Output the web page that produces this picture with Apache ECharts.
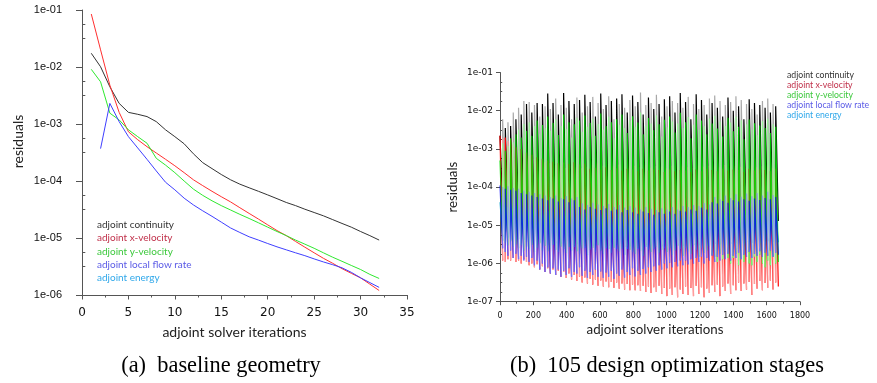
<!DOCTYPE html>
<html><head><meta charset="utf-8">
<script src="https://cdn.jsdelivr.net/npm/echarts@6/dist/echarts.min.js"></script>
<style>html,body{margin:0;padding:0;background:#fff}#c{width:877px;height:383px}</style>
</head><body><div id="c"></div>
<script>
// ---------- shared ----------
const seriesNames = ['adjoint continuity','adjoint x-velocity','adjoint y-velocity','adjoint local flow rate','adjoint energy'];
const legendTextColors = ['#333333','#c0304a','#3cc83c','#5a5ae6','#30a8ea'];

// ---------- (a) baseline geometry ----------
const baseIter = [1,2,3,4,5,6,7,8,9,10,11,12,13,14,15,16,17,18,19,20,21,22,23,24,25,26,27,28,29,30,31,32];
const baseContinuity = [1.74e-2,1.01e-2,4.5e-3,2.3e-3,1.6e-3,1.48e-3,1.35e-3,1.1e-3,7.9e-4,6.0e-4,4.5e-4,3.0e-4,2.1e-4,1.65e-4,1.3e-4,1.05e-4,8.8e-5,7.6e-5,6.6e-5,5.7e-5,4.9e-5,4.2e-5,3.7e-5,3.2e-5,2.8e-5,2.45e-5,2.1e-5,1.8e-5,1.55e-5,1.3e-5,1.1e-5,9.2e-6];
const baseXVel = [8.5e-2,2.0e-2,4.8e-3,1.6e-3,7.3e-4,5.3e-4,4.0e-4,3.1e-4,2.4e-4,1.85e-4,1.4e-4,1.05e-4,8.3e-5,6.6e-5,5.3e-5,4.3e-5,3.4e-5,2.7e-5,2.15e-5,1.7e-5,1.35e-5,1.1e-5,8.7e-6,6.9e-6,5.5e-6,4.4e-6,3.6e-6,2.9e-6,2.4e-6,2.0e-6,1.55e-6,1.2e-6];
const baseYVel = [9.1e-3,5.5e-3,1.55e-3,1.18e-3,7.9e-4,6.0e-4,4.6e-4,2.5e-4,1.9e-4,1.4e-4,1.0e-4,7.2e-5,5.6e-5,4.5e-5,3.7e-5,3.1e-5,2.6e-5,2.2e-5,1.85e-5,1.55e-5,1.3e-5,1.1e-5,9.2e-6,7.8e-6,6.6e-6,5.5e-6,4.6e-6,3.9e-6,3.3e-6,2.8e-6,2.3e-6,1.95e-6];
const baseFlowRate = [null,3.7e-4,2.3e-3,1.1e-3,6.0e-4,3.8e-4,2.4e-4,1.5e-4,9.5e-5,7.0e-5,5.0e-5,3.8e-5,3.0e-5,2.4e-5,1.9e-5,1.5e-5,1.25e-5,1.05e-5,9.2e-6,8.0e-6,7.0e-6,6.2e-6,5.5e-6,4.9e-6,4.3e-6,3.8e-6,3.4e-6,3.0e-6,2.5e-6,2.0e-6,1.65e-6,1.36e-6];
const baseEnergy = [];
const leftXTicks = [0,5,10,15,20,25,30,35];
const leftMinorTicks = [5.62e-2,3.16e-2,5.62e-3,3.16e-3,5.62e-4,3.16e-4,5.62e-5,3.16e-5,5.62e-6,3.16e-6];

// ---------- (b) 105 design optimization stages (per-stage start peak / end residual) ----------
const totalIterations = 1670;
const contPeak = [2.2e-3,6e-3,3.5e-3,5e-3,4e-3,9e-3,6e-3,1.2e-2,8e-3,1.8e-2,
1.5e-2,1.7e-2,9e-3,1.4e-2,1.6e-2,7e-3,1.5e-2,1.3e-2,2.8e-2,1.1e-2,
1.6e-2,2.1e-2,8e-3,1.4e-2,2.9e-2,1.2e-2,1.8e-2,6e-3,1.5e-2,2.2e-2,
1.9e-2,9e-3,2.6e-2,1.3e-2,1.7e-2,2.3e-2,7e-3,1.6e-2,2.8e-2,1.1e-2,
1.4e-2,2.4e-2,1.8e-2,6e-3,2.1e-2,1.5e-2,2.7e-2,1.2e-2,9e-3,1.9e-2,
2.5e-2,1.3e-2,1.7e-2,3e-2,8e-3,1.4e-2,2.2e-2,1.6e-2,1.1e-2,2.6e-2,
1.5e-2,7e-3,2e-2,1.3e-2,2.4e-2,1.8e-2,9e-3,1.6e-2,2.9e-2,1.2e-2,
1.7e-2,2.3e-2,6e-3,1.5e-2,2.7e-2,1.1e-2,1.9e-2,1.4e-2,8e-3,2.1e-2,
1.6e-2,2.5e-2,1.2e-2,1.8e-2,7e-3,1.4e-2,2.2e-2,1.7e-2,1e-2,2.4e-2,
1.3e-2,1.9e-2,6e-3,1.5e-2,2e-2,1.1e-2,1.6e-2,8e-3,1.4e-2,1.8e-2,
1.2e-2,2.1e-2,9e-3,1.5e-2,1.3e-2];
const contLow = [3e-5,2.4e-5,2.8e-5,2e-5,2.2e-5,1.6e-5,1.9e-5,1.3e-5,1.7e-5,1.1e-5,
1.4e-5,1.2e-5,1.6e-5,1e-5,1.3e-5,1.8e-5,1.1e-5,1.4e-5,9e-6,1.5e-5,
1.2e-5,1e-5,1.7e-5,1.3e-5,8e-6,1.4e-5,1.1e-5,1.9e-5,1.2e-5,9e-6,
1e-5,1.6e-5,8e-6,1.3e-5,1.1e-5,9e-6,1.8e-5,1.2e-5,8e-6,1.4e-5,
1.2e-5,9e-6,1.1e-5,1.9e-5,1e-5,1.3e-5,8e-6,1.4e-5,1.6e-5,1.1e-5,
9e-6,1.3e-5,1.1e-5,8e-6,1.7e-5,1.2e-5,1e-5,1.3e-5,1.5e-5,9e-6,
1.2e-5,1.8e-5,1e-5,1.4e-5,9e-6,1.1e-5,1.6e-5,1.2e-5,8e-6,1.4e-5,
1.1e-5,9e-6,1.9e-5,1.3e-5,8e-6,1.5e-5,1e-5,1.2e-5,1.7e-5,1e-5,
1.2e-5,9e-6,1.4e-5,1.1e-5,1.8e-5,1.3e-5,1e-5,1.2e-5,1.5e-5,9e-6,
1.3e-5,1.1e-5,1.9e-5,1.2e-5,1e-5,1.5e-5,1.2e-5,1.7e-5,1.3e-5,1.1e-5,
1.4e-5,1e-5,1.6e-5,1.2e-5,1.3e-5];
const xvelPeak = [2.2e-3,1.9e-3,2e-3,1.6e-3,1.8e-3,1.3e-3,1.1e-3,9e-4,1e-3,7.5e-4,
8e-4,6.5e-4,7e-4,5.5e-4,6e-4,5e-4,5.5e-4,4.5e-4,5e-4,4.2e-4,
4.6e-4,3.8e-4,4.2e-4,3.5e-4,4.4e-4,3.2e-4,4e-4,3.6e-4,4.5e-4,3.3e-4,
3.9e-4,3.1e-4,4.1e-4,3.4e-4,3e-4,3.8e-4,3.2e-4,4.2e-4,2.9e-4,3.6e-4,
3.3e-4,4e-4,2.8e-4,3.5e-4,3.1e-4,3.9e-4,2.7e-4,3.4e-4,3e-4,3.7e-4,
2.9e-4,3.6e-4,2.6e-4,3.3e-4,3e-4,3.8e-4,2.7e-4,3.2e-4,2.9e-4,3.5e-4,
2.8e-4,3.4e-4,2.5e-4,3.1e-4,2.9e-4,3.6e-4,2.6e-4,3.3e-4,2.8e-4,3.5e-4,
2.7e-4,3.3e-4,2.5e-4,3.2e-4,2.9e-4,3.7e-4,2.6e-4,3.4e-4,3e-4,3.6e-4,
2.8e-4,3.5e-4,2.6e-4,3.3e-4,3e-4,3.8e-4,2.7e-4,3.4e-4,2.9e-4,3.6e-4,
2.8e-4,3.4e-4,2.5e-4,3.2e-4,3e-4,3.7e-4,2.7e-4,3.3e-4,2.9e-4,3.5e-4,
2.8e-4,3.4e-4,2.6e-4,3.2e-4,3e-4];
const xvelLow = [1.2e-6,1.1e-6,1.3e-6,1.2e-6,1.4e-6,1.1e-6,1.2e-6,1e-6,1.3e-6,1.1e-6,
9e-7,1e-6,8e-7,9.5e-7,7e-7,8.5e-7,6e-7,7.5e-7,5.5e-7,7e-7,
5e-7,6.5e-7,4.5e-7,6e-7,4.2e-7,5.5e-7,3.8e-7,5e-7,3.5e-7,4.6e-7,
3.2e-7,4.3e-7,3e-7,4e-7,2.8e-7,3.8e-7,2.6e-7,3.6e-7,2.5e-7,3.4e-7,
2.4e-7,3.3e-7,2.3e-7,3.2e-7,2.2e-7,3e-7,2.1e-7,2.9e-7,2e-7,2.8e-7,
2e-7,2.7e-7,1.9e-7,2.6e-7,1.8e-7,2.5e-7,1.7e-7,2.4e-7,1.8e-7,2.6e-7,
1.6e-7,2.3e-7,1.4e-7,2.2e-7,1.5e-7,2.4e-7,1.3e-7,2.1e-7,1.6e-7,2.5e-7,
1.5e-7,2.3e-7,1.4e-7,2.6e-7,1.6e-7,2.4e-7,1.3e-7,2.2e-7,1.7e-7,2.7e-7,
1.8e-7,2.8e-7,1.4e-7,2.5e-7,1.9e-7,3e-7,1.6e-7,2.7e-7,2e-7,3.2e-7,
1.9e-7,3e-7,2.1e-7,3.3e-7,1.5e-7,2.9e-7,2.2e-7,3.5e-7,2e-7,3.1e-7,
2.3e-7,3.6e-7,2.1e-7,3.2e-7,2.5e-7];
const yvelPeak = [5e-4,1.4e-3,9e-4,1.2e-3,1.9e-3,1.5e-3,2.4e-3,3.2e-3,2e-3,4.5e-3,
3e-3,5e-3,2.2e-3,4e-3,5.5e-3,2.5e-3,4.2e-3,3.5e-3,7e-3,3e-3,
4.8e-3,6e-3,2.3e-3,4e-3,8e-3,3.3e-3,5e-3,2e-3,4.4e-3,6.5e-3,
5.5e-3,2.8e-3,7.5e-3,3.8e-3,4.8e-3,6.2e-3,2.2e-3,4.5e-3,8.5e-3,3.2e-3,
4e-3,7e-3,5e-3,1.9e-3,6e-3,4.3e-3,8e-3,3.5e-3,2.6e-3,5.5e-3,
7.2e-3,3.8e-3,4.9e-3,9e-3,2.4e-3,4.1e-3,6.4e-3,4.6e-3,3.1e-3,7.6e-3,
4.4e-3,2.1e-3,5.8e-3,3.7e-3,7e-3,5.2e-3,2.7e-3,4.6e-3,8.8e-3,3.5e-3,
5e-3,6.8e-3,1.9e-3,4.3e-3,8e-3,3.2e-3,5.5e-3,4e-3,2.4e-3,6.2e-3,
4.6e-3,7.4e-3,3.4e-3,5.2e-3,2.1e-3,4e-3,6.5e-3,4.9e-3,2.9e-3,7e-3,
3.8e-3,5.6e-3,1.8e-3,4.4e-3,5.9e-3,3.2e-3,4.7e-3,2.3e-3,4.1e-3,5.3e-3,
3.5e-3,6.2e-3,2.6e-3,4.4e-3,3.8e-3];
const yvelLow = [4e-6,3.5e-6,3e-6,3.8e-6,2.8e-6,3.2e-6,2.5e-6,3e-6,2.2e-6,2.8e-6,
2.4e-6,3.1e-6,2e-6,2.6e-6,3.4e-6,2.2e-6,2.9e-6,2.1e-6,2.5e-6,3.2e-6,
2.3e-6,2e-6,2.8e-6,2.4e-6,1.9e-6,2.7e-6,2.2e-6,3e-6,2.1e-6,1.8e-6,
2.5e-6,2.9e-6,1.7e-6,2.3e-6,2.6e-6,2e-6,3.1e-6,2.2e-6,1.8e-6,2.7e-6,
2.4e-6,1.9e-6,2.6e-6,3.2e-6,2.1e-6,2.5e-6,1.7e-6,2.8e-6,2.3e-6,2e-6,
1.8e-6,2.6e-6,2.2e-6,1.6e-6,3e-6,2.3e-6,2e-6,2.5e-6,2.8e-6,1.9e-6,
2.3e-6,3.1e-6,2e-6,2.6e-6,1.7e-6,2.2e-6,2.9e-6,2.4e-6,1.6e-6,2.5e-6,
2.1e-6,1.8e-6,3e-6,2.3e-6,1.5e-6,2.6e-6,1.9e-6,2.2e-6,2.8e-6,1.7e-6,
1.5e-6,1.1e-6,1.8e-6,1.3e-6,2e-6,1.4e-6,1e-6,1.4e-6,1.8e-6,9e-7,
1.3e-6,1.1e-6,1.9e-6,1e-6,9e-7,1.5e-6,1.1e-6,1.7e-6,1e-6,8e-7,
1.2e-6,9e-7,1.5e-6,1e-6,1.1e-6];
const flowPeak = [1.1e-4,1e-4,9e-5,1.05e-4,8.5e-5,9.5e-5,8e-5,9e-5,7e-5,8e-5,
6.5e-5,7.5e-5,6e-5,7e-5,5.5e-5,6.5e-5,5e-5,6e-5,4.5e-5,5.5e-5,
5e-5,6e-5,4.2e-5,5.2e-5,4.8e-5,5.8e-5,4e-5,5e-5,4.5e-5,5.5e-5,
3e-5,3.8e-5,2.6e-5,3.4e-5,3e-5,3.9e-5,2.7e-5,3.5e-5,2.5e-5,3.2e-5,
2.8e-5,3.6e-5,2.4e-5,3e-5,2.6e-5,3.4e-5,2.2e-5,2.9e-5,2.5e-5,3.2e-5,
2.2e-5,2.9e-5,2e-5,2.6e-5,2.3e-5,3e-5,2.1e-5,2.7e-5,1.9e-5,2.5e-5,
2.2e-5,2.8e-5,2e-5,2.6e-5,2.3e-5,3e-5,2e-5,2.6e-5,2.4e-5,3.2e-5,
2.3e-5,3e-5,2.6e-5,3.4e-5,2.4e-5,3.2e-5,2.9e-5,3.8e-5,2.6e-5,3.5e-5,
4e-5,5.5e-5,3.7e-5,4.8e-5,4.3e-5,6e-5,3.9e-5,5.2e-5,4.5e-5,6.5e-5,
4.2e-5,5.6e-5,4.8e-5,6.8e-5,4.4e-5,5.8e-5,5e-5,7e-5,4.6e-5,6e-5,
5.2e-5,7.5e-5,4.8e-5,6.2e-5,5.5e-5];
const flowLow = [2.5e-6,2e-6,1.6e-6,2.2e-6,1.4e-6,1.8e-6,1.3e-6,1.6e-6,1.2e-6,1.5e-6,
1.1e-6,1.4e-6,9e-7,1.2e-6,7e-7,1e-6,6e-7,8e-7,5.5e-7,7.5e-7,
5e-7,7e-7,4.5e-7,6.5e-7,5e-7,7.5e-7,4.5e-7,6e-7,5.5e-7,8e-7,
4.8e-7,6.5e-7,4.2e-7,6e-7,5e-7,7e-7,4.5e-7,6.2e-7,4.2e-7,5.8e-7,
4.5e-7,6.5e-7,4e-7,5.5e-7,4.8e-7,7e-7,4.3e-7,6e-7,5e-7,7.5e-7,
4.6e-7,6.5e-7,5e-7,7.2e-7,5.5e-7,8e-7,6e-7,8.5e-7,6.5e-7,9e-7,
7e-7,1e-6,7.5e-7,1.05e-6,8e-7,1.1e-6,8.5e-7,1.2e-6,9e-7,1.2e-6,
9.5e-7,1.3e-6,1e-6,1.4e-6,1.1e-6,1.5e-6,1e-6,1.4e-6,1.2e-6,1.6e-6,
1.1e-6,1.5e-6,1.2e-6,1.7e-6,1.3e-6,1.8e-6,1.2e-6,1.6e-6,1.4e-6,1.9e-6,
1.3e-6,1.7e-6,1.5e-6,2e-6,1.4e-6,1.8e-6,1.6e-6,2.1e-6,1.5e-6,1.9e-6,
1.6e-6,2.2e-6,1.5e-6,1.9e-6,1.7e-6];
const energyPeak = [4e-5,3.4e-5,3.8e-5,3e-5,3.5e-5,2.8e-5,3.2e-5,2.6e-5,3e-5,2.5e-5,
2.9e-5,2.3e-5,2.7e-5,2.2e-5,2.6e-5,2e-5,2.5e-5,1.9e-5,2.4e-5,2e-5,
2.3e-5,1.8e-5,2.2e-5,1.9e-5,2.4e-5,1.8e-5,2.1e-5,1.7e-5,2.2e-5,1.8e-5,
2e-5,1.7e-5,2.1e-5,1.6e-5,2e-5,1.7e-5,2.2e-5,1.6e-5,1.9e-5,1.7e-5,
2.1e-5,1.6e-5,1.9e-5,1.5e-5,2e-5,1.6e-5,1.8e-5,1.5e-5,1.9e-5,1.6e-5,
1.8e-5,1.5e-5,1.9e-5,1.4e-5,1.7e-5,1.5e-5,1.8e-5,1.4e-5,1.7e-5,1.5e-5,
1.8e-5,1.4e-5,1.7e-5,1.5e-5,1.9e-5,1.5e-5,1.8e-5,1.6e-5,2e-5,1.6e-5,
1.9e-5,1.6e-5,2e-5,1.7e-5,2.1e-5,1.7e-5,2e-5,1.8e-5,2.2e-5,1.8e-5,
2.1e-5,1.8e-5,2.3e-5,1.9e-5,2.2e-5,1.9e-5,2.4e-5,2e-5,2.3e-5,2e-5,
2.5e-5,2.1e-5,2.4e-5,2.1e-5,2.6e-5,2.2e-5,2.5e-5,2.2e-5,2.7e-5,2.3e-5,
2.6e-5,2.3e-5,2.8e-5,2.4e-5,2.6e-5];
const energyLow = [5e-6,4.5e-6,4.8e-6,4.2e-6,4.6e-6,4e-6,4.4e-6,3.8e-6,4.2e-6,3.6e-6,
4e-6,3.5e-6,3.9e-6,3.3e-6,3.7e-6,3.2e-6,3.6e-6,3e-6,3.5e-6,3.1e-6,
3.4e-6,2.9e-6,3.3e-6,2.8e-6,3.2e-6,2.8e-6,3.1e-6,2.7e-6,3.2e-6,2.8e-6,
3e-6,2.6e-6,3.1e-6,2.6e-6,2.9e-6,2.5e-6,3e-6,2.6e-6,2.8e-6,2.5e-6,
2.9e-6,2.5e-6,2.8e-6,2.4e-6,2.9e-6,2.5e-6,2.7e-6,2.4e-6,2.8e-6,2.5e-6,
2.7e-6,2.4e-6,2.8e-6,2.3e-6,2.7e-6,2.4e-6,2.8e-6,2.4e-6,2.7e-6,2.5e-6,
2.8e-6,2.5e-6,2.9e-6,2.5e-6,2.8e-6,2.6e-6,3e-6,2.6e-6,2.9e-6,2.7e-6,
3e-6,2.7e-6,3.1e-6,2.8e-6,3e-6,2.8e-6,3.2e-6,2.9e-6,3.1e-6,2.9e-6,
3.3e-6,3e-6,3.2e-6,3e-6,3.4e-6,3.1e-6,3.3e-6,3.1e-6,3.5e-6,3.2e-6,
3.4e-6,3.2e-6,3.6e-6,3.3e-6,3.5e-6,3.3e-6,3.7e-6,3.4e-6,3.6e-6,3.4e-6,
3.8e-6,3.5e-6,3.7e-6,3.5e-6,3.6e-6];
const rightXTicks = [0,200,400,600,800,1000,1200,1400,1600,1800];
const rightMinorTicks = [5.62e-2,3.16e-2,1.78e-2,5.62e-3,3.16e-3,1.78e-3,5.62e-4,3.16e-4,1.78e-4,5.62e-5,3.16e-5,1.78e-5,5.62e-6,3.16e-6,1.78e-6,5.62e-7,3.16e-7,1.78e-7];

// ---------- build ----------
const chart = echarts.init(document.getElementById('c'), null, {renderer:'canvas'});
const tickFmt = v => { const e = Math.round(Math.log10(v)); return '1e-' + String(-e).padStart(2,'0'); };
const plainFmt = v => String(v);
const axisGrey = '#555555';

// each stage: jump up from the previous stage's final residual, then converge to its own final residual
function stageData(peaks, lows, parity){
  const n = peaks.length, L = totalIterations / n, d = [];
  for (let i = parity; i < n; i += 2){
    const s = i * L, e = (i + 1) * L;
    if (i > 0) d.push([s, lows[i-1]]);
    d.push([s, peaks[i]], [e, lows[i]], [e, '-']);
  }
  return d;
}

const leftColors = ['#333333','#ff2f2f','#2fe82f','#3f3fff','#20a8f0'];
const leftArrays = [baseContinuity, baseXVel, baseYVel, baseFlowRate, baseEnergy];
const series = [];
leftArrays.forEach((arr, k) => {
  series.push({
    name: seriesNames[k], type:'line', xAxisIndex:0, yAxisIndex:0,
    data: arr.map((v,i) => [baseIter[i], v == null ? '-' : v]),
    showSymbol:false, symbol:'none', lineStyle:{width:1, color:leftColors[k]}, itemStyle:{color:leftColors[k]},
    animation:false, silent:true, z: 2
  });
});

// right: draw order black, red, energy, green, blue
const rightDefs = [
  {k:0, p:contPeak, l:contLow, dark:'#000000', light:'#a8a8a8', op:1},
  {k:1, p:xvelPeak, l:xvelLow, dark:'#ff0000', light:'#ff9c9c', op:1},
  {k:4, p:energyPeak, l:energyLow, dark:'#0aa0d0', light:'#7fd0ee', op:0.8},
  {k:2, p:yvelPeak, l:yvelLow, dark:'#00e000', light:'#92ff92', op:0.85},
  {k:3, p:flowPeak, l:flowLow, dark:'#0000ff', light:'#8a8aff', op:0.75}
];
rightDefs.forEach(def => {
  [[0, def.dark],[1, def.light]].forEach(([par, col]) => {
    series.push({
      name: seriesNames[def.k], type:'line', xAxisIndex:1, yAxisIndex:2,
      data: stageData(def.p, def.l, par), connectNulls:false,
      showSymbol:false, symbol:'none', lineStyle:{width:1.2, color:col, opacity:def.op}, itemStyle:{color:leftColors[def.k]},
      animation:false, silent:true, sampling:null
    });
  });
});

const legendData = seriesNames.map((n,i) => ({name:n, textStyle:{color:legendTextColors[i]}}));

const option = {
  animation:false,
  backgroundColor:'#ffffff',
  title:[
    {text:'(a)\u2002baseline geometry', left:216, top:350, textAlign:'center',
     textStyle:{fontFamily:'Liberation Serif', fontSize:22.4, fontWeight:'normal', color:'#000'}},
    {text:'(b)\u2002105 design optimization stages', left:662, top:350, textAlign:'center',
     textStyle:{fontFamily:'Liberation Serif', fontSize:22.4, fontWeight:'normal', color:'#000'}}
  ],
  legend:[
    {left:87, top:215, orient:'vertical', itemWidth:0, itemHeight:0, itemGap:3.2, icon:'rect',
     selectedMode:false, data:legendData,
     textStyle:{fontFamily:'Lato', fontSize:10, lineHeight:10}},
    {left:777, top:66, orient:'vertical', itemWidth:0, itemHeight:0, itemGap:0.8, icon:'rect',
     selectedMode:false, data:legendData,
     textStyle:{fontFamily:'Lato', fontSize:8.7, lineHeight:9}}
  ],
  grid:[
    {left:82, top:10, width:325, height:285, outerBoundsMode:'none', containLabel:false},
    {left:500, top:72.5, width:300, height:229.2, outerBoundsMode:'none', containLabel:false}
  ],
  xAxis:[
    {type:'value', gridIndex:0, min:0, max:35, interval:5,
     name:'adjoint solver iterations', nameLocation:'middle', nameGap:30, nameMoveOverlap:false,
     nameTextStyle:{fontFamily:'Lato', fontSize:14, color:'#222', padding:[0,20,0,0]},
     axisLine:{show:true, onZero:false, lineStyle:{color:axisGrey}},
     axisTick:{show:true, length:4.5, lineStyle:{color:axisGrey}, customValues:leftXTicks},
     minorTick:{show:true, splitNumber:2, length:2.5, lineStyle:{color:axisGrey}},
     axisLabel:{margin:12, fontFamily:'DejaVu Sans', fontSize:12, color:'#111', customValues:leftXTicks, formatter:plainFmt},
     splitLine:{show:false}},
    {type:'value', gridIndex:1, min:0, max:1800, interval:200,
     name:'adjoint solver iterations', nameLocation:'middle', nameGap:22, nameMoveOverlap:false,
     nameTextStyle:{fontFamily:'Lato', fontSize:13.3, color:'#222', padding:[0,0,0,10]},
     axisLine:{show:true, onZero:false, lineStyle:{color:axisGrey}},
     axisTick:{show:true, length:3.5, lineStyle:{color:axisGrey}, customValues:rightXTicks},
     minorTick:{show:true, splitNumber:2, length:2, lineStyle:{color:axisGrey}},
     axisLabel:{margin:10, fontFamily:'DejaVu Sans', fontSize:8, color:'#111', customValues:rightXTicks, formatter:plainFmt},
     splitLine:{show:false}}
  ],
  yAxis:[
    {type:'log', logBase:10, gridIndex:0, min:1e-6, max:1e-1, splitNumber:5,
     name:'residuals', nameLocation:'middle', nameGap:57, nameMoveOverlap:false,
     nameTextStyle:{fontFamily:'Lato', fontSize:14, color:'#222', padding:[0,0,0,22]},
     axisLine:{show:true, onZero:false, lineStyle:{color:axisGrey}},
     axisTick:{show:true, length:6, lineStyle:{color:axisGrey}},
     axisLabel:{margin:20, fontFamily:'Liberation Sans', fontSize:11, color:'#111', formatter:tickFmt, showMinLabel:true, showMaxLabel:true},
     splitLine:{show:false}},
    {type:'log', logBase:10, gridIndex:0, min:1e-6, max:1e-1,
     axisLine:{show:false}, axisLabel:{show:false}, splitLine:{show:false},
     axisTick:{show:true, length:3.3, lineStyle:{color:axisGrey}, customValues:leftMinorTicks}},
    {type:'log', logBase:10, gridIndex:1, min:1e-7, max:1e-1, splitNumber:6,
     name:'residuals', nameLocation:'middle', nameGap:41, nameMoveOverlap:false,
     nameTextStyle:{fontFamily:'Lato', fontSize:13.3, color:'#222'},
     axisLine:{show:true, onZero:false, lineStyle:{color:axisGrey}},
     axisTick:{show:true, length:4, lineStyle:{color:axisGrey}},
     axisLabel:{margin:7, fontFamily:'DejaVu Sans', fontSize:9, color:'#111', formatter:tickFmt, showMinLabel:true, showMaxLabel:true},
     splitLine:{show:false}},
    {type:'log', logBase:10, gridIndex:1, min:1e-7, max:1e-1,
     axisLine:{show:false}, axisLabel:{show:false}, splitLine:{show:false},
     axisTick:{show:true, length:2.2, lineStyle:{color:axisGrey}, customValues:rightMinorTicks}}
  ],
  series: series
};
chart.setOption(option);
</script></body></html>
